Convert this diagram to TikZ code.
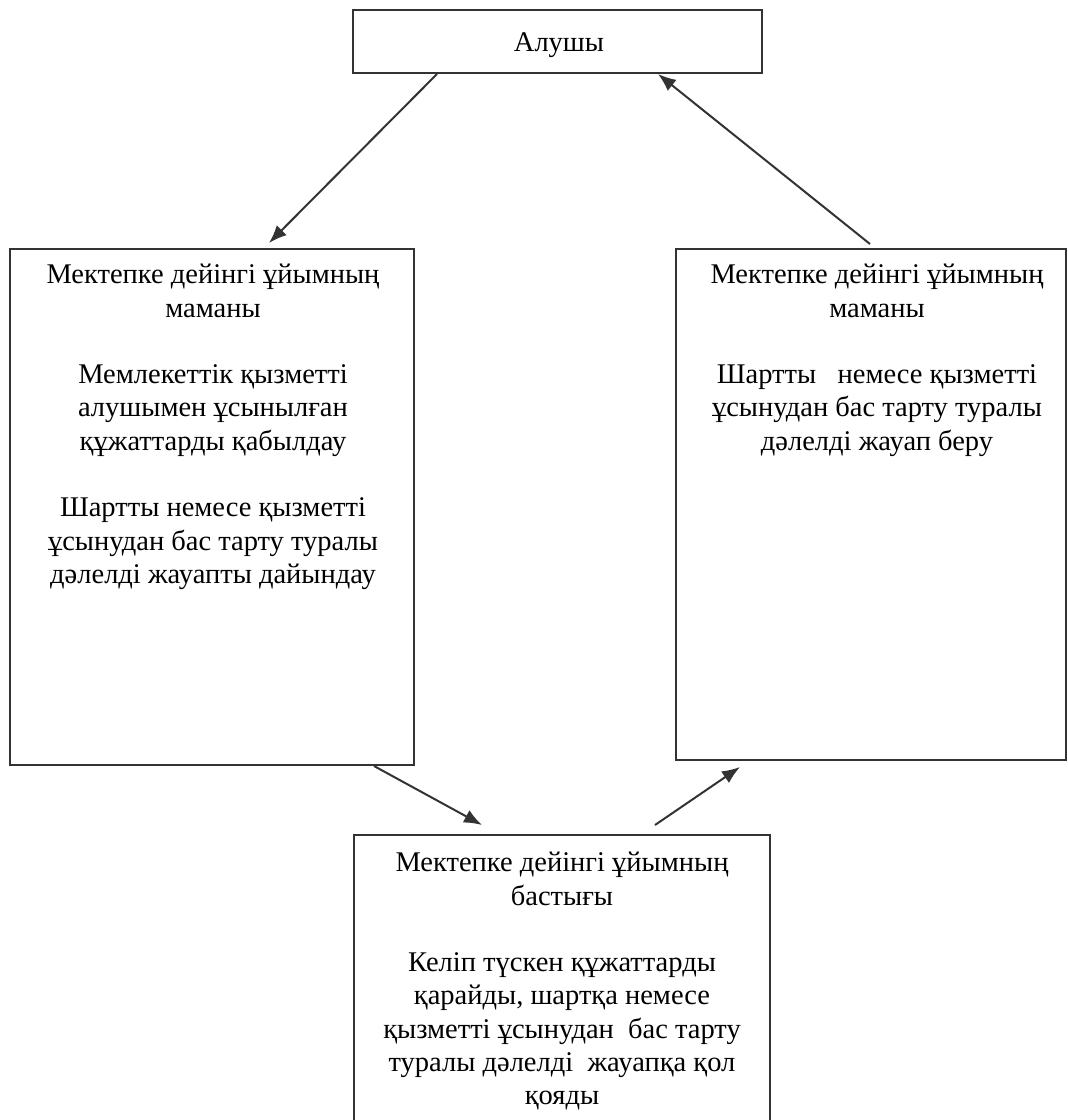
\documentclass[tikz,border=0pt]{standalone}
\usepackage{fontspec}
\setmainfont{Liberation Serif}
\usetikzlibrary{arrows.meta}
\begin{document}
\begin{tikzpicture}[x=1pt,y=-1pt,
  box/.style={draw=black!80, line width=2pt, rectangle, inner sep=0pt},
  txt/.style={align=center, font=\fontsize{28.5}{33.3}\selectfont, inner sep=0pt, anchor=north, text=black},
  arr/.style={draw=black!80, line width=2pt, -{Latex[length=18pt,width=14pt]}}]
\useasboundingbox[fill=white] (0,0) rectangle (1068,1120);
% boxes
\node[box, minimum width=409pt, minimum height=63pt] (top) at (557.5,41.5) {};
\node[box, minimum width=404pt, minimum height=516pt] (left) at (212,507) {};
\node[box, minimum width=390pt, minimum height=511pt] (right) at (871,504.5) {};
\node[box, minimum width=416pt, minimum height=300pt] (bottom) at (562,985) {};
% texts
\node[txt, anchor=base] (ttop) at (559,51) {Алушы};
\node[txt] (tleft) at (213,264) {Мектепке дейінгі ұйымның\\маманы\\[33.3pt]Мемлекеттік қызметті\\алушымен ұсынылған\\құжаттарды қабылдау\\[33.3pt]Шартты немесе қызметті\\ұсынудан бас тарту туралы\\дәлелді жауапты дайындау};
\node[txt] (tright) at (877,264) {Мектепке дейінгі ұйымның\\маманы\\[33.3pt]Шартты\ \ \ немесе қызметті\\ұсынудан бас тарту туралы\\дәлелді жауап беру};
\node[txt] (tbottom) at (562,852) {Мектепке дейінгі ұйымның\\бастығы\\[33.3pt]Келіп түскен құжаттарды\\қарайды, шартқа немесе\\қызметті ұсынудан\ \ бас тарту\\туралы дәлелді\ \ жауапқа қол\\қояды};
% free ends
\coordinate (a1e) at (269,243);
\coordinate (a2s) at (870,244);
\coordinate (a3e) at (482,825);
\coordinate (a4s) at (655,825);
\coordinate (a4e) at (740,767);
% connectors
\draw[arr] ([xshift=85pt]top.south west) -- (a1e);
\draw[arr] (a2s) -- ([xshift=306pt]top.south west);
\draw[arr] ([xshift=365pt]left.south west) -- (a3e);
\draw[arr] (a4s) -- (a4e);
\end{tikzpicture}
\end{document}
